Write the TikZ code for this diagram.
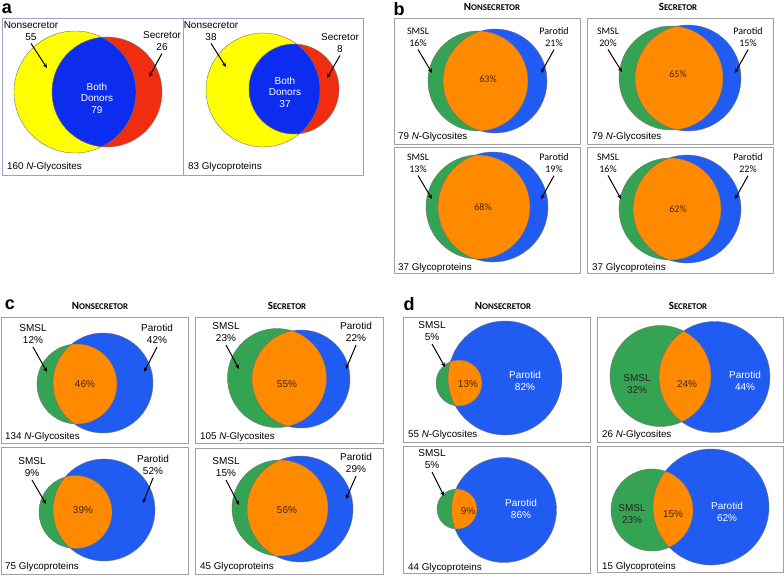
\documentclass[tikz,border=0pt]{standalone}
\usepackage{fontspec}
\setmainfont{Liberation Sans}
\newfontfamily\calib{Carlito}
\usetikzlibrary{arrows.meta}
\definecolor{ayel}{RGB}{255,255,0}
\definecolor{ared}{RGB}{240,45,15}
\definecolor{ablu}{RGB}{12,45,240}
\definecolor{vgrn}{RGB}{52,163,82}
\definecolor{vblu}{RGB}{32,92,242}
\definecolor{vorg}{RGB}{255,138,0}
\definecolor{boxg}{RGB}{160,160,160}
\definecolor{boxa}{RGB}{160,160,190}
\definecolor{pctc}{RGB}{70,35,10}
\newcommand\venntwo[9]{%
 \fill[#4] (#1,#2) circle[radius=#3pt];
 \fill[#8] (#5,#6) circle[radius=#7pt];
 \begin{scope}\clip (#1,#2) circle[radius=#3pt];\fill[#9] (#5,#6) circle[radius=#7pt];\end{scope}
 \draw[vedge] (#1,#2) circle[radius=#3pt] (#5,#6) circle[radius=#7pt];}
\newcommand\hdr[2]{{\calib\bfseries\fontsize{11}{12}\selectfont #1\fontsize{8.8}{12}\selectfont #2}}
\tikzset{
 panelbox/.style={draw=boxg, line width=0.9pt},
 panelboxa/.style={draw=boxa, line width=0.9pt},
 vedge/.style={draw=black!55, line width=0.4pt},
 arr/.style={-{Stealth[length=4.5pt,width=4pt]}, line width=1pt},
 lab/.style={align=center, inner sep=0pt, font=\fontsize{10}{11.5}\selectfont},
 blab/.style={align=center, inner sep=0pt, font=\calib\fontsize{10}{12}\selectfont},
 clab/.style={align=center, inner sep=0pt, font=\fontsize{10}{12.5}\selectfont},
 cnt/.style={anchor=west, inner sep=0pt, font=\fontsize{9.8}{11}\selectfont},
 pct/.style={inner sep=0pt, text=pctc, font=\fontsize{10}{12}\selectfont},
 bpct/.style={inner sep=0pt, text=pctc, font=\calib\fontsize{10}{12}\selectfont},
 wlab/.style={align=center, inner sep=0pt, text=white, font=\fontsize{10}{11.5}\selectfont},
 dlab/.style={align=center, inner sep=0pt, text=black!85, font=\fontsize{10}{11.5}\selectfont},
 letter/.style={inner sep=0pt, font=\fontsize{18}{18}\selectfont\bfseries},
 hd/.style={inner sep=0pt}
}
\begin{document}
\begin{tikzpicture}[x=1pt,y=-1pt]
\useasboundingbox (0,0) rectangle (784,576);
\fill[white] (0,0) rectangle (784,576);

% ================= panel a =================
\node[letter] (La) at (7,9) {a};
\venntwo{75}{92}{61}{ayel}{107}{92}{55}{ared}{ablu}
\venntwo{263}{90}{57}{ayel}{294}{89}{45}{ared}{ablu}
\draw[panelboxa] (2,18) rectangle (183,175);
\draw[panelboxa] (183,18) rectangle (363,175);
\node[lab] (a1n) at (31,31) {Nonsecretor\\55};
\coordinate (a1nt) at (47,68);
\draw[arr] ([yshift=-3pt]a1n.south) -- (a1nt);
\node[lab] (a1s) at (162,41) {Secretor\\26};
\coordinate (a1st) at (149,77);
\draw[arr] ([yshift=-3pt]a1s.south) -- (a1st);
\node[wlab] (a1b) at (97,98) {Both\\Donors\\79};
\node[cnt] (a1c) at (7,167) {160 \textit{N}-Glycosites};
\node[lab] (a2n) at (211,31) {Nonsecretor\\38};
\coordinate (a2nt) at (226,67);
\draw[arr] ([yshift=-3pt]a2n.south) -- (a2nt);
\node[lab] (a2s) at (340,43) {Secretor\\8};
\coordinate (a2st) at (327,78);
\draw[arr] ([yshift=-3pt]a2s.south) -- (a2st);
\node[wlab] (a2b) at (285,92) {Both\\Donors\\37};
\node[cnt] (a2c) at (188,167) {83 Glycoproteins};

% ================= panel b =================
\node[letter] (Lb) at (399,9) {b};
\node[hd] (bh1) at (492,7) {\hdr{N}{ONSECRETOR}};
\node[hd] (bh2) at (678,7) {\hdr{S}{ECRETOR}};
\venntwo{478}{81}{50}{vgrn}{495}{81}{52}{vblu}{vorg}
\venntwo{671}{78}{52}{vgrn}{688}{78}{53}{vblu}{vorg}
\venntwo{478}{207}{52}{vgrn}{493}{207}{55}{vblu}{vorg}
\venntwo{670}{209}{51}{vgrn}{687}{209}{54}{vblu}{vorg}
\draw[panelbox] (394,18) rectangle (580,144);
\draw[panelbox] (587,18) rectangle (773,144);
\draw[panelbox] (394,147) rectangle (580,273);
\draw[panelbox] (587,147) rectangle (773,273);
% b1
\node[blab] (b1g) at (418,37) {SMSL\\16\%};
\coordinate (b1gt) at (432,73);
\draw[arr] ([yshift=-3pt]b1g.south) -- (b1gt);
\node[blab] (b1b) at (554,37) {Parotid\\21\%};
\coordinate (b1bt) at (541,73);
\draw[arr] ([yshift=-3pt]b1b.south) -- (b1bt);
\node[bpct] (b1o) at (488,79) {63\%};
\node[cnt] (b1c) at (398,137) {79 \textit{N}-Glycosites};
% b2
\node[blab] (b2g) at (608,37) {SMSL\\20\%};
\coordinate (b2gt) at (622,72);
\draw[arr] ([yshift=-3pt]b2g.south) -- (b2gt);
\node[blab] (b2b) at (748,37) {Parotid\\15\%};
\coordinate (b2bt) at (735,73);
\draw[arr] ([yshift=-3pt]b2b.south) -- (b2bt);
\node[bpct] (b2o) at (678,74) {65\%};
\node[cnt] (b2c) at (592,137) {79 \textit{N}-Glycosites};
% b3
\node[blab] (b3g) at (418,163) {SMSL\\13\%};
\coordinate (b3gt) at (432,199);
\draw[arr] ([yshift=-3pt]b3g.south) -- (b3gt);
\node[blab] (b3b) at (554,163) {Parotid\\19\%};
\coordinate (b3bt) at (541,199);
\draw[arr] ([yshift=-3pt]b3b.south) -- (b3bt);
\node[bpct] (b3o) at (483,207) {68\%};
\node[cnt] (b3c) at (398,268) {37 Glycoproteins};
% b4
\node[blab] (b4g) at (608,163) {SMSL\\16\%};
\coordinate (b4gt) at (621,199);
\draw[arr] ([yshift=-3pt]b4g.south) -- (b4gt);
\node[blab] (b4b) at (748,163) {Parotid\\22\%};
\coordinate (b4bt) at (735,199);
\draw[arr] ([yshift=-3pt]b4b.south) -- (b4bt);
\node[bpct] (b4o) at (678,209) {62\%};
\node[cnt] (b4c) at (592,268) {37 Glycoproteins};

% ================= panel c =================
\node[letter] (Lc) at (10,305) {c};
\node[hd] (ch1) at (100,306) {\hdr{N}{ONSECRETOR}};
\node[hd] (ch2) at (287,306) {\hdr{S}{ECRETOR}};
\venntwo{77}{384}{40}{vgrn}{103}{383}{50}{vblu}{vorg}
\venntwo{277}{378}{49.5}{vgrn}{301}{379}{49}{vblu}{vorg}
\venntwo{75.5}{512}{36.5}{vgrn}{104}{510}{51}{vblu}{vorg}
\venntwo{280}{508}{48}{vgrn}{300}{509}{53}{vblu}{vorg}
\draw[panelbox] (1,317) rectangle (188,443);
\draw[panelbox] (195,317) rectangle (383,443);
\draw[panelbox] (1,447) rectangle (188,574);
\draw[panelbox] (195,448) rectangle (383,574);
% c1
\node[clab] (c1g) at (33,334) {SMSL\\12\%};
\coordinate (c1gt) at (47,372);
\draw[arr] ([yshift=-3pt]c1g.south) -- (c1gt);
\node[clab] (c1b) at (157,334) {Parotid\\42\%};
\coordinate (c1bt) at (144,372);
\draw[arr] ([yshift=-3pt]c1b.south) -- (c1bt);
\node[pct] (c1o) at (85,384) {46\%};
\node[cnt] (c1c) at (5,437) {134 \textit{N}-Glycosites};
% c2
\node[clab] (c2g) at (226,332) {SMSL\\23\%};
\coordinate (c2gt) at (239,369);
\draw[arr] ([yshift=-3pt]c2g.south) -- (c2gt);
\node[clab] (c2b) at (356,332) {Parotid\\22\%};
\coordinate (c2bt) at (346,369);
\draw[arr] ([yshift=-3pt]c2b.south) -- (c2bt);
\node[pct] (c2o) at (287,384) {55\%};
\node[cnt] (c2c) at (200,437) {105 \textit{N}-Glycosites};
% c3
\node[clab] (c3g) at (32,467) {SMSL\\9\%};
\coordinate (c3gt) at (46,504);
\draw[arr] ([yshift=-3pt]c3g.south) -- (c3gt);
\node[clab] (c3b) at (153,465) {Parotid\\52\%};
\coordinate (c3bt) at (143,503);
\draw[arr] ([yshift=-3pt]c3b.south) -- (c3bt);
\node[pct] (c3o) at (83,510) {39\%};
\node[cnt] (c3c) at (5,567) {75 Glycoproteins};
% c4
\node[clab] (c4g) at (226,467) {SMSL\\15\%};
\coordinate (c4gt) at (239,505);
\draw[arr] ([yshift=-3pt]c4g.south) -- (c4gt);
\node[clab] (c4b) at (356,463) {Parotid\\29\%};
\coordinate (c4bt) at (346,499);
\draw[arr] ([yshift=-3pt]c4b.south) -- (c4bt);
\node[pct] (c4o) at (287,510) {56\%};
\node[cnt] (c4c) at (200,567) {45 Glycoproteins};

% ================= panel d =================
\node[letter] (Ld) at (409,304) {d};
\node[hd] (dh1) at (503,306) {\hdr{N}{ONSECRETOR}};
\node[hd] (dh2) at (688,306) {\hdr{S}{ECRETOR}};
\venntwo{459}{383}{23}{vgrn}{505}{378}{57}{vblu}{vorg}
\venntwo{660.5}{376}{50.5}{vgrn}{714.5}{377}{55.5}{vblu}{vorg}
\venntwo{457}{509}{20}{vgrn}{504}{510}{52.5}{vblu}{vorg}
\venntwo{652}{510}{41}{vgrn}{711}{507}{58}{vblu}{vorg}
\draw[panelbox] (403,317) rectangle (590,442);
\draw[panelbox] (597,317) rectangle (783,442);
\draw[panelbox] (403,446) rectangle (590,573);
\draw[panelbox] (597,446) rectangle (783,572);
% d1
\node[clab] (d1g) at (432,331) {SMSL\\5\%};
\coordinate (d1gt) at (445,367);
\draw[arr] ([yshift=-3pt]d1g.south) -- (d1gt);
\node[pct] (d1o) at (468,384) {13\%};
\node[wlab] (d1b) at (525,381) {Parotid\\82\%};
\node[cnt] (d1c) at (408,435) {55 \textit{N}-Glycosites};
% d2
\node[dlab] (d2g) at (637,384) {SMSL\\32\%};
\node[pct] (d2o) at (687,384) {24\%};
\node[wlab] (d2b) at (745,381) {Parotid\\44\%};
\node[cnt] (d2c) at (602,435) {26 \textit{N}-Glycosites};
% d3
\node[clab] (d3g) at (432,459) {SMSL\\5\%};
\coordinate (d3gt) at (444,496);
\draw[arr] ([yshift=-3pt]d3g.south) -- (d3gt);
\node[pct] (d3o) at (468,511) {9\%};
\node[wlab] (d3b) at (521,509) {Parotid\\86\%};
\node[cnt] (d3c) at (408,568) {44 Glycoproteins};
% d4
\node[dlab] (d4g) at (632,514) {SMSL\\23\%};
\node[pct] (d4o) at (673,514) {15\%};
\node[wlab] (d4b) at (727,512) {Parotid\\62\%};
\node[cnt] (d4c) at (602,567) {15 Glycoproteins};
\end{tikzpicture}
\end{document}
